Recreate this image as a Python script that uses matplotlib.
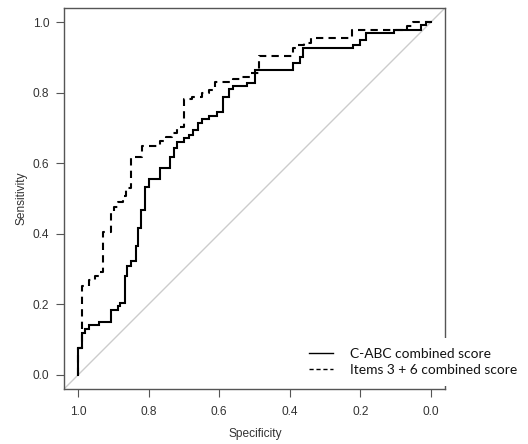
import matplotlib
matplotlib.use("Agg")
import matplotlib.pyplot as plt
from matplotlib.lines import Line2D

# ---- data ----
# C-ABC combined score ROC curve: (specificity, sensitivity) step points
spec_cabc = [1.000, 0.988, 0.981, 0.970, 0.941, 0.908, 0.887, 0.880, 0.868, 0.861,
             0.849, 0.837, 0.831, 0.821, 0.810, 0.799, 0.769, 0.740, 0.729, 0.720,
             0.701, 0.687, 0.674, 0.659, 0.649, 0.630, 0.607, 0.590, 0.571, 0.562,
             0.520, 0.499, 0.391, 0.372, 0.362, 0.221, 0.202, 0.183, 0.104, 0.028,
             0.014, 0.000]
sens_cabc = [0.000, 0.075, 0.120, 0.131, 0.141, 0.150, 0.183, 0.195, 0.205, 0.280,
             0.308, 0.322, 0.365, 0.417, 0.468, 0.534, 0.555, 0.586, 0.619, 0.643,
             0.659, 0.671, 0.680, 0.693, 0.714, 0.726, 0.735, 0.744, 0.787, 0.810,
             0.819, 0.827, 0.863, 0.883, 0.902, 0.926, 0.935, 0.949, 0.970, 0.979,
             0.991, 1.000]

# Items 3 + 6 combined score ROC curve
spec_items = [1.000, 0.989, 0.970, 0.953, 0.942, 0.930, 0.908, 0.899, 0.888, 0.874,
              0.863, 0.849, 0.818, 0.767, 0.752, 0.733, 0.719, 0.701, 0.677, 0.649,
              0.630, 0.611, 0.561, 0.536, 0.513, 0.487, 0.391, 0.380, 0.360, 0.339,
              0.225, 0.067, 0.052, 0.000]
sens_items = [0.000, 0.075, 0.251, 0.268, 0.280, 0.293, 0.405, 0.459, 0.477, 0.491,
              0.508, 0.531, 0.619, 0.650, 0.662, 0.674, 0.686, 0.704, 0.781, 0.789,
              0.798, 0.807, 0.830, 0.838, 0.845, 0.857, 0.903, 0.928, 0.935, 0.942,
              0.956, 0.978, 0.989, 1.000]

x_ticks = [1.0, 0.8, 0.6, 0.4, 0.2, 0.0]
y_ticks = [0.0, 0.2, 0.4, 0.6, 0.8, 1.0]
series_labels = ["C-ABC combined score", "Items 3 + 6 combined score"]
x_label = "Specificity"
y_label = "Sensitivity"

# ---- figure ----
W, H = 528, 444
fig = plt.figure(figsize=(W / 100, H / 100), dpi=100)
L, R, T, B = 64, 445, 8, 389
ax = fig.add_axes([L / W, 1 - B / H, (R - L) / W, (B - T) / H])
ax.set_xlim(1.04, -0.04)
ax.set_ylim(-0.04, 1.04)

# identity line
ax.axline((1.0, 0.0), (0.0, 1.0), color="#cccccc", lw=1.0, zorder=1)

ax.plot(spec_cabc, sens_cabc, drawstyle="steps-pre", color="black", lw=1.5,
        solid_joinstyle="miter", zorder=3)
ax.plot(spec_items, sens_items, drawstyle="steps-pre", color="black", lw=1.5,
        linestyle=(0, (3.5, 2.5)), zorder=3)

tick_color = "#333333"
for s in ax.spines.values():
    s.set_color("#555555")
    s.set_linewidth(1.0)

ax.set_xticks(x_ticks)
ax.set_xticklabels([f"{v:.1f}" for v in x_ticks])
ax.set_yticks(y_ticks)
ax.set_yticklabels([f"{v:.1f}" for v in y_ticks])
ax.tick_params(axis="both", direction="out", length=5.5, width=0.8,
               color="#555555", labelcolor=tick_color, labelsize=8.6)
ax.tick_params(axis="x", pad=6.5)
ax.tick_params(axis="y", pad=5.0)
for lab in ax.get_xticklabels() + ax.get_yticklabels():
    lab.set_fontfamily("Liberation Sans")

fig.text(22 / W, 1 - 198 / H, y_label, rotation=90, ha="center", va="center",
         fontsize=8.6, family="Liberation Sans", color=tick_color)
fig.text(255 / W, 1 - 434 / H, x_label, ha="center", va="center",
         fontsize=8.6, family="Liberation Sans", color=tick_color)

handles = [Line2D([], [], color="black", lw=1.0),
           Line2D([], [], color="black", lw=1.0, linestyle=(0, (3, 2)))]
leg = ax.legend(handles, series_labels, loc="center left",
                bbox_to_anchor=(292 / W, 1 - 362 / H), bbox_transform=fig.transFigure,
                frameon=True, facecolor="white", edgecolor="none", framealpha=1.0,
                fancybox=False, borderpad=0.7, labelspacing=0.32,
                handlelength=1.8, handletextpad=1.2,
                prop={"family": "Lato", "size": 9.9})
leg.get_frame().set_linewidth(0)
for t in leg.get_texts():
    t.set_color("#111111")

fig.savefig("out.png", dpi=100)
